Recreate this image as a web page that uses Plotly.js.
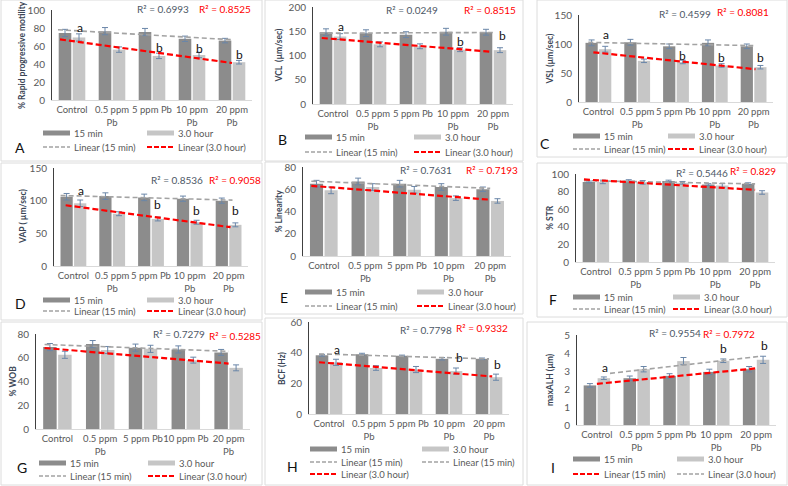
<!DOCTYPE html>
<html><head><meta charset="utf-8">
<script src="https://cdn.plot.ly/plotly-3.0.1.min.js"></script>
<style>html,body{margin:0;padding:0;background:#fff}#chart{width:788px;height:486px}</style>
</head><body><div id="chart"></div>
<script>
// ---------- DATA ----------
const categories  = ['Control', '0.5 ppm<br>Pb', '5 ppm Pb', '10 ppm<br>Pb', '20 ppm<br>Pb'];
const categoriesG = ['Control', '0.5 ppm<br>Pb', '5 ppm Pb', '10 ppm Pb', '20 ppm<br>Pb'];
const seriesNames = ['15 min', '3.0 hour'];

// A: % Rapid progressive motility
const A15 = [74.5, 76.5, 75.5, 68, 66];      const A15err = [4, 4, 4, 3, 2.5];
const A3h = [69.5, 56, 49, 50, 42];          const A3herr = [4, 3, 3, 3, 2];
const A_r2 = ['R² = 0.6993', 'R² = 0.8525'];
const A_letters = ['a', '', 'b', 'b', 'b'];
// B: VCL
const B15 = [148, 146, 143, 149, 148];       const B15err = [7, 7, 6, 7, 6];
const B3h = [139, 123, 119, 112, 111];       const B3herr = [6, 5, 5, 4, 5];
const B_r2 = ['R² = 0.0249', 'R² = 0.8515'];
const B_letters = ['a', '', '', 'b', 'b'];
// C: VSL
const C15 = [102, 103, 96, 102, 96];         const C15err = [5, 5, 4, 5, 4];
const C3h = [91, 71, 69, 63, 60];            const C3herr = [5, 3, 3, 3, 3];
const C_r2 = ['R² = 0.4599', 'R² = 0.8081'];
const C_letters = ['a', '', 'b', 'b', 'b'];
// D: VAP
const D15 = [106, 107, 105, 103, 100];       const D15err = [5, 5, 5, 4, 4];
const D3h = [96, 80, 72, 67, 63];            const D3herr = [5, 3, 3, 3, 3];
const D_r2 = ['R² = 0.8536', 'R² = 0.9058'];
const D_letters = ['a', '', 'b', 'b', 'b'];
// E: % Linearity
const E15 = [65, 67, 65, 62, 60];            const E15err = [3, 3, 3, 3, 2];
const E3h = [59, 62, 59.5, 52, 49.5];        const E3herr = [3, 3, 3, 2, 2];
const E_r2 = ['R² = 0.7631', 'R² = 0.7193'];
// F: % STR
const F15 = [91, 92.5, 92, 88, 89];          const F15err = [1, 1, 1, 1, 1];
const F3h = [91, 90.5, 90, 87, 79];          const F3herr = [2, 2, 1.5, 2, 2];
const F_r2 = ['R² = 0.5446', 'R² = 0.829'];
// G: % WOB
const G15 = [69, 71.5, 68.5, 67, 64.5];      const G15err = [3, 3, 3, 3, 2.5];
const G3h = [62.5, 66.5, 67.5, 58, 51.5];    const G3herr = [3, 3, 3, 2.5, 2.5];
const G_r2 = ['R² = 0.7279', 'R² = 0.5285'];
// H: BCF
const H15 = [38.3, 39, 38, 36, 36];          const H15err = [0.6, 0.6, 0.4, 0.8, 0.5];
const H3h = [33.7, 30, 29, 28, 24];          const H3herr = [2, 1.5, 2, 2, 2];
const H_r2 = ['R² = 0.7798', 'R² = 0.9332'];
const H_letters = ['a', '', '', 'b', 'b'];
// I: maxALH
const I15 = [2.2, 2.6, 2.73, 2.95, 3.1];     const I15err = [0.1, 0.12, 0.12, 0.15, 0.15];
const I3h = [2.6, 3.1, 3.55, 3.57, 3.62];    const I3herr = [0.07, 0.15, 0.2, 0.1, 0.2];
const I_r2 = ['R² = 0.9554', 'R² = 0.7972'];
const I_letters = ['a', '', '', 'b', 'b'];

// ---------- STYLE / LAYOUT ----------
const W = 788, H = 486;
const FONT = 'Lato, "Open Sans", sans-serif';
const DARK = '#8c8c8c', LIGHT = '#c6c6c6', ERR = '#6a86a8';
const GRAY = '#a3a3a3', RED = '#ff0000', TXT = '#595959', TITLE = '#3b4656';
const px = x => x / W, py = y => 1 - y / H;

const panels = [
 {id:'A', cats:categories, d:[A15,A3h], e:[A15err,A3herr], r2:A_r2, letters:A_letters,
  xp:[52,252], yp:[100,10], range:[0,100], dtick:20, title:'% Rapid progressive motility', tx:22,
  r2pos:[[163,9],[225,9]], tr:[[-0.35,4],[-0.3,4]], tcol:[GRAY,RED],
  letterPos:[[0.2,81],null,[0.18,58],[0.18,57],[0.18,51]],
  leg:{c1:43,c2:147,rows:[133,147]}, lab:[20,148], box:[1,0,262,161]},
 {id:'B', cats:categories, d:[B15,B3h], e:[B15err,B3herr], r2:B_r2, letters:B_letters,
  xp:[313,513], yp:[104,7], range:[0,200], dtick:50, title:'VCL  (µm/sec)', tx:279,
  r2pos:[[412,10],[490,10]], tr:[[-0.33,4],[-0.28,3.95]], tcol:[GRAY,RED],
  letterPos:[[0.2,160],null,null,[0.18,128],[0.24,142]],
  leg:{c1:305,c2:414,rows:[137,152]}, lab:[282,139], box:[265,0,523,161]},
 {id:'C', cats:categories, d:[C15,C3h], e:[C15err,C3herr], r2:C_r2, letters:C_letters,
  xp:[579,773], yp:[102,15], range:[0,150], dtick:50, title:'VSL (µm/sec)', tx:550,
  r2pos:[[685,14],[743,12]], tr:[[-0.26,4],[-0.13,4.05]], tcol:[GRAY,RED],
  letterPos:[[0.2,117],null,[0.18,81],[0.18,77],[0.18,77]],
  leg:{c1:573,c2:668,rows:[136,149]}, lab:[545,143], box:[537,0,787,157]},
 {id:'D', cats:categories, d:[D15,D3h], e:[D15err,D3herr], r2:D_r2, letters:D_letters,
  xp:[54,248], yp:[266,168], range:[0,150], dtick:50, title:'VAP ( µm/sec)', tx:23,
  r2pos:[[177,180],[235,180]], tr:[[-0.33,4.1],[-0.2,4.05]], tcol:[GRAY,RED],
  letterPos:[[0.2,116],null,[0.18,94],[0.18,85],[0.18,85]],
  leg:{c1:43,c2:147,rows:[300,311]}, lab:[20,303], box:[1,163,262,320]},
 {id:'E', cats:categories, d:[E15,E3h], e:[E15err,E3herr], r2:E_r2, letters:null,
  xp:[303,511], yp:[256,167], range:[0,80], dtick:20, title:'% Linearity', tx:279,
  r2pos:[[426,170],[492,170]], tr:[[-0.3,4],[-0.3,4]], tcol:[GRAY,RED], letterPos:null,
  leg:{c1:305,c2:417,rows:[292,306]}, lab:[284,297], box:[265,162,523,314]},
 {id:'F', cats:categories, d:[F15,F3h], e:[F15err,F3herr], r2:F_r2, letters:null,
  xp:[576,775], yp:[262,174], range:[0,100], dtick:20, title:'% STR', tx:550,
  r2pos:[[702,173],[753,171]], tr:[[-0.3,4],[-0.3,4]], tcol:[GRAY,RED], letterPos:null,
  leg:{c1:573,c2:673,rows:[297,309]}, lab:[553,299], box:[537,163,787,317]},
 {id:'G', cats:categoriesG, d:[G15,G3h], e:[G15err,G3herr], r2:G_r2, letters:null,
  xp:[36,250], yp:[429,334], range:[0,80], dtick:20, title:'% WOB', tx:12,
  r2pos:[[179,334],[235,336]], tr:[[-0.3,4],[-0.3,4]], tcol:[GRAY,RED], letterPos:null,
  leg:{c1:39,c2:148,rows:[463,476]}, lab:[22,467], box:[1,322,262,485]},
 {id:'H', cats:categories, d:[H15,H3h], e:[H15err,H3herr], r2:H_r2, letters:H_letters,
  xp:[309,509], yp:[414,322], range:[0,60], dtick:20, title:'BCF (Hz)', tx:282,
  r2pos:[[426,330],[482,328]], tr:[[-0.25,4],[-0.25,4.08]], tcol:[GRAY,RED],
  letterPos:[[0.2,42],null,null,[0.25,36.8],[0.2,32.3]],
  leg:{c1:310,c2:422,rows:[449,462,474], h:true}, lab:[292,466], box:[265,318,523,485]},
 {id:'I', cats:categories, d:[I15,I3h], e:[I15err,I3herr], r2:I_r2, letters:I_letters,
  xp:[577,776], yp:[425,335], range:[0,5], dtick:1, title:'maxALH (µm)', tx:550,
  r2pos:[[675,333],[729,334]], tr:[[0,4.05],[0.33,4.05]], tcol:[RED,GRAY],
  letterPos:[[0.2,3.19],null,null,[0.18,4.26],[0.2,4.44]],
  leg:{c1:573,c2:677,rows:[459,474], swap:true}, lab:[553,467], box:[527,322,787,485]}
];

function fit(v){
  const n=v.length, mx=(n-1)/2, my=v.reduce((a,b)=>a+b,0)/n;
  let sxy=0,sxx=0; v.forEach((y,i)=>{sxy+=(i-mx)*(y-my); sxx+=(i-mx)*(i-mx);});
  const m=sxy/sxx; return [m, my-m*mx];
}

const data=[], layout={width:W,height:H,margin:{l:0,r:0,t:0,b:0},paper_bgcolor:'#fff',plot_bgcolor:'rgba(0,0,0,0)',
  showlegend:false, barmode:'group', bargap:0.3, bargroupgap:0.1, font:{family:FONT,size:10,color:TXT},
  annotations:[], shapes:[]};
const idx=[0,1,2,3,4];

panels.forEach((p,k)=>{
  const n=k+1, xa='x'+(n===1?'':n), ya='y'+(n===1?'':n);
  const xk='xaxis'+(n===1?'':n), yk='yaxis'+(n===1?'':n);
  [0,1].forEach(s=>{
    data.push({type:'bar', x:idx, y:p.d[s], name:seriesNames[s], xaxis:xa, yaxis:ya,
      marker:{color:s===0?DARK:LIGHT},
      error_y:{type:'data', array:p.e[s], visible:true, color:ERR, thickness:1, width:3}});
  });
  [0,1].forEach(s=>{
    const [m,b]=fit(p.d[s]); const t=p.tr[s];
    data.push({type:'scatter', mode:'lines', x:t, y:t.map(x=>b+m*x), xaxis:xa, yaxis:ya,
      line:{color:p.tcol[s], dash:p.tcol[s]===RED?'6px,3px':'5px,3px', width:p.tcol[s]===RED?2.2:1.6}, hoverinfo:'skip'});
  });
  layout[xk]={domain:[px(p.xp[0]),px(p.xp[1])], anchor:ya, type:'linear', range:[-0.5,4.5],
    tickvals:idx, ticktext:p.cats, tickangle:0, showline:true, linecolor:'#d9d9d9', linewidth:1, ticks:'',
    showgrid:false, zeroline:false, tickfont:{family:FONT,size:9.5,color:TXT}, ticklabelstandoff:1, fixedrange:true};
  layout[yk]={domain:[py(p.yp[0]),py(p.yp[1])], anchor:xa, range:p.range, dtick:p.dtick, tick0:0,
    showline:true, linecolor:'#404040', linewidth:1, ticks:'', showgrid:false, zeroline:false,
    tickfont:{family:FONT,size:10,color:TXT}, ticklabelstandoff:4, fixedrange:true};
  layout.annotations.push({xref:'paper',yref:'paper',x:px(p.tx),y:py((p.yp[0]+p.yp[1])/2),text:p.title,
    textangle:-90,showarrow:false,font:{family:FONT,size:8.5,color:TITLE,weight:'bold'},xanchor:'center',yanchor:'middle'});
  p.r2.forEach((t,s)=>{
    layout.annotations.push({xref:'paper',yref:'paper',x:px(p.r2pos[s][0]),y:py(p.r2pos[s][1]),text:t,showarrow:false,
      font:{family:FONT,size:10,color:s===0?'#4d5866':RED},xanchor:'center',yanchor:'middle'});
  });
  if(p.letters){ p.letters.forEach((t,i)=>{ if(!t) return; const lp=p.letterPos[i];
    layout.annotations.push({xref:xa,yref:ya,x:i+lp[0],y:lp[1],text:t,showarrow:false,
      font:{family:FONT,size:12,color:'#111'},xanchor:'center',yanchor:'middle'}); }); }
  layout.annotations.push({xref:'paper',yref:'paper',x:px(p.lab[0]),y:py(p.lab[1]),text:p.id,showarrow:false,
    font:{family:FONT,size:14,color:'#111'},xanchor:'center',yanchor:'middle'});
  layout.shapes.push({type:'rect',xref:'paper',yref:'paper',x0:px(p.box[0]),x1:px(p.box[2]),y0:py(p.box[1]),y1:py(p.box[3]),
    line:{color:'#dcdcdc',width:1},layer:'below'});
  const L=p.leg, sw=27;
  const items=[[L.c1,L.rows[0],'bar',DARK,seriesNames[0]],[L.c2,L.rows[0],'bar',LIGHT,seriesNames[1]]];
  if(L.h){
    items.push([L.c1,L.rows[1],'dash',GRAY,'Linear ('+seriesNames[0]+')'],[L.c2,L.rows[1],'dash',GRAY,'Linear ('+seriesNames[0]+')'],
               [L.c1,L.rows[2],'dash',RED,'Linear ('+seriesNames[1]+')']);
  } else if(L.swap){
    items.push([L.c1,L.rows[1],'dash',RED,'Linear ('+seriesNames[0]+')'],[L.c2,L.rows[1],'dash',GRAY,'Linear ('+seriesNames[1]+')']);
  } else {
    items.push([L.c1,L.rows[1],'dash',GRAY,'Linear ('+seriesNames[0]+')'],[L.c2,L.rows[1],'dash',RED,'Linear ('+seriesNames[1]+')']);
  }
  items.forEach(([x,y,kind,col,txt])=>{
    if(kind==='bar') layout.shapes.push({type:'rect',xref:'paper',yref:'paper',x0:px(x),x1:px(x+sw),y0:py(y+2.5),y1:py(y-2.5),
      fillcolor:col,line:{width:0}});
    else layout.shapes.push({type:'line',xref:'paper',yref:'paper',x0:px(x),x1:px(x+sw),y0:py(y),y1:py(y),
      line:{color:col,width:col===RED?2.2:1.6,dash:col===RED?'5px,2px':'4px,2px'}});
    layout.annotations.push({xref:'paper',yref:'paper',x:px(x+sw+2),y:py(y),text:txt,showarrow:false,
      font:{family:FONT,size:9.5,color:TXT},xanchor:'left',yanchor:'middle'});
  });
});

Plotly.newPlot('chart', data, layout, {staticPlot:true, displayModeBar:false});
</script></body></html>
